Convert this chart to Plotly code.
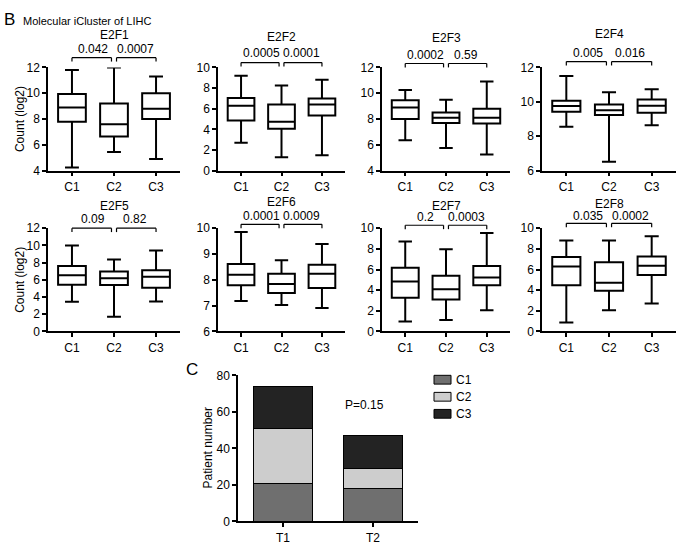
import plotly.graph_objects as go

# ---------------- data ----------------
genes = ["E2F1", "E2F2", "E2F3", "E2F4", "E2F5", "E2F6", "E2F7", "E2F8"]
groups = ["C1", "C2", "C3"]

lower = [[4.25, 5.45, 4.9], [2.7, 1.3, 1.5], [6.35, 5.75, 5.25], [8.55, 6.52, 8.64],
         [3.44, 1.7, 3.48], [7.18, 7.03, 6.91], [0.96, 1.12, 2.05], [0.87, 2.05, 2.7]]
q1 = [[7.8, 6.65, 8.0], [4.85, 4.05, 5.35], [8.0, 7.7, 7.65], [9.42, 9.23, 9.37],
      [5.44, 5.4, 5.07], [7.79, 7.49, 7.68], [3.26, 3.1, 4.47], [4.47, 3.94, 5.47]]
median = [[8.9, 7.6, 8.8], [6.3, 4.75, 6.4], [8.9, 8.1, 8.1], [9.76, 9.51, 9.78],
          [6.52, 6.18, 6.37], [8.2, 7.84, 8.24], [4.84, 4.1, 5.22], [6.3, 4.72, 6.37]]
q3 = [[9.94, 9.2, 10.0], [7.05, 6.4, 7.0], [9.45, 8.5, 8.8], [10.07, 9.85, 10.13],
      [7.6, 6.96, 7.1], [8.61, 8.24, 8.58], [6.18, 5.4, 6.34], [7.2, 6.7, 7.27]]
upper = [[11.8, 12.0, 11.3], [9.2, 8.25, 8.8], [10.25, 9.5, 10.9], [11.5, 10.56, 10.73],
         [10.0, 8.37, 9.4], [9.85, 8.76, 9.39], [8.7, 7.95, 9.53], [8.82, 8.82, 9.22]]

p_left = ["0.042", "0.0005", "0.0002", "0.005", "0.09", "0.0001", "0.2", "0.035"]
p_right = ["0.0007", "0.0001", "0.59", "0.016", "0.82", "0.0009", "0.0003", "0.0002"]

y_min = [4, 0, 4, 6, 0, 6, 0, 0]
y_max = [12, 10, 12, 12, 12, 10, 10, 10]
y_step = [2, 2, 2, 2, 2, 1, 2, 2]

stages = ["T1", "T2"]
c1_counts = [21, 18]
c2_counts = [30, 11]
c3_counts = [23, 18]

# ---------------- layout helpers ----------------
W, H = 677, 547
FONT = "Liberation Sans, Arial, Helvetica, sans-serif"

def px(x):
    return x / W

def py(y):
    return 1 - y / H

col_px = [(48, 180), (218, 345), (382, 510), (542, 676)]
row_px = [(62, 168), (227, 333)]

title_y = [29, 31, 32, 28, 204, 200, 204, 202]
pval_y = [43, 47, 49, 47, 218, 215, 216, 214]
brk_y = [52, 57, 58, 56, 227, 223, 224, 222]

fig = go.Figure()
layout = dict(
    width=W, height=H,
    margin=dict(l=0, r=0, t=0, b=0),
    paper_bgcolor="white", plot_bgcolor="white",
    font=dict(family=FONT, size=12, color="black"),
    showlegend=False,
)
shapes = []
annotations = []

axis_common = dict(showline=True, linecolor="black", linewidth=1.5, ticks="outside",
                   ticklen=4, tickwidth=1.5, tickcolor="black", showgrid=False,
                   zeroline=False, tickfont=dict(family=FONT, size=12, color="black"))

def ann(**kw):
    base = dict(showarrow=False, xanchor="center", yanchor="middle", font=dict(size=12))
    base.update(kw)
    annotations.append(base)

for i, g in enumerate(genes):
    n = i + 1
    r, c = divmod(i, 4)
    xs = "x" if n == 1 else f"x{n}"
    ys = "y" if n == 1 else f"y{n}"
    xk = "xaxis" if n == 1 else f"xaxis{n}"
    yk = "yaxis" if n == 1 else f"yaxis{n}"
    x0, x1 = col_px[c]
    top, bot = row_px[r]
    layout[xk] = dict(axis_common, domain=[px(x0), px(x1)], anchor=ys,
                      type="category", range=[-0.57, 2.57], categoryorder="array",
                      categoryarray=groups)
    layout[yk] = dict(axis_common, domain=[py(bot), py(top)], anchor=xs,
                      range=[y_min[i], y_max[i]], dtick=y_step[i], tick0=0)
    fig.add_trace(go.Box(
        x=groups, q1=q1[i], median=median[i], q3=q3[i],
        lowerfence=lower[i], upperfence=upper[i],
        boxpoints=False, fillcolor="white",
        line=dict(color="black", width=2), width=0.66, whiskerwidth=0.5,
        xaxis=xs, yaxis=ys, showlegend=False, hoverinfo="skip"))
    ann(text=g, x=1, xref=xs, y=py(title_y[i]), yref="paper")
    ann(text=p_left[i], x=0.5, xref=xs, y=py(pval_y[i]), yref="paper")
    ann(text=p_right[i], x=1.5, xref=xs, y=py(pval_y[i]), yref="paper")
    yb = py(brk_y[i])
    yt = py(brk_y[i] + 4)
    for (a, b) in [(0, 0.94), (1.06, 2)]:
        shapes.append(dict(type="line", xref=xs, yref="paper", x0=a, x1=b, y0=yb, y1=yb,
                           line=dict(color="black", width=1.2)))
        for xx in (a, b):
            shapes.append(dict(type="line", xref=xs, yref="paper", x0=xx, x1=xx, y0=yb, y1=yt,
                               line=dict(color="black", width=1.2)))

for (top, bot) in row_px:
    ann(text="Count (log2)", x=px(20), y=py((top + bot) / 2), xref="paper", yref="paper",
        textangle=-90)

# ---------------- panel C: stacked bars ----------------
layout["xaxis9"] = dict(axis_common, domain=[px(238), px(418)], anchor="y9",
                        type="category", range=[-0.5, 1.5])
layout["yaxis9"] = dict(axis_common, domain=[py(528), py(378)], anchor="x9",
                        range=[0, 80], dtick=20)
bar_colors = ["#6f6f6f", "#cdcdcd", "#232323"]
for name, vals, col in zip(groups, [c1_counts, c2_counts, c3_counts], bar_colors):
    fig.add_trace(go.Bar(x=stages, y=vals, name=name, marker=dict(color=col,
                         line=dict(color="black", width=1)), width=0.66,
                         xaxis="x9", yaxis="y9", hoverinfo="skip"))
layout["barmode"] = "stack"

# legend drawn as swatches + labels
legend_y = [382.5, 400, 417.5]
for name, col, ly in zip(groups, bar_colors, legend_y):
    shapes.append(dict(type="rect", xref="paper", yref="paper",
                       x0=px(434), x1=px(451), y0=py(ly + 4.5), y1=py(ly - 4.5),
                       fillcolor=col, line=dict(color="black", width=1)))
    ann(text=name, x=px(454), y=py(ly), xref="paper", yref="paper", xanchor="left")

ann(text="P=0.15", x=0.9, xref="x9", y=64, yref="y9")
ann(text="Patient number", x=px(208), y=py(453), xref="paper", yref="paper", textangle=-90)

ann(text="B", x=px(2), y=py(13), xref="paper", yref="paper", xanchor="left",
    font=dict(size=17))
ann(text="Molecular iCluster of LIHC", x=px(21), y=py(14), xref="paper", yref="paper",
    xanchor="left", font=dict(size=11))
ann(text="C", x=px(184), y=py(372), xref="paper", yref="paper", xanchor="left",
    font=dict(size=17))

layout["shapes"] = shapes
layout["annotations"] = annotations
fig.update_layout(**layout)
fig.write_html("out.html", config={"displayModeBar": False},
               post_script="document.body.style.margin='0';document.body.style.overflow='hidden';")
